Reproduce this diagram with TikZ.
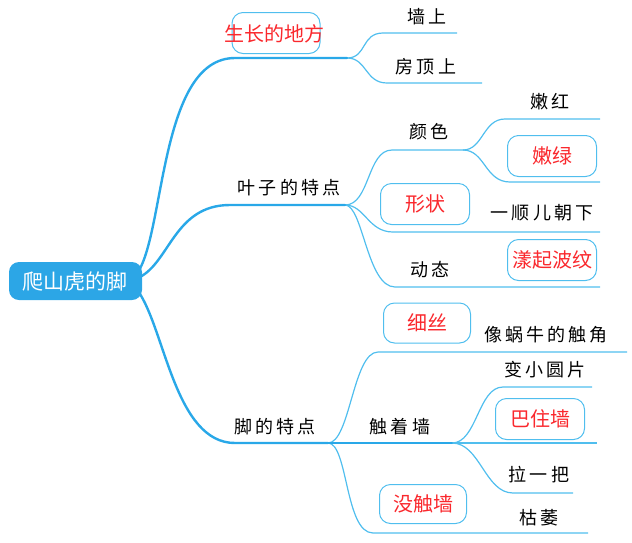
\documentclass[tikz,border=0pt]{standalone}
\usepackage{fontspec}
\newfontfamily\cjk{Noto Sans CJK SC}
\newfontfamily\cjksp[LetterSpace=17]{Noto Sans CJK SC}
\definecolor{thickc}{RGB}{41,168,232}
\definecolor{thinc}{RGB}{80,190,238}
\definecolor{rootfill}{RGB}{44,166,230}
\definecolor{redtxt}{RGB}{250,40,45}
\begin{document}
\begin{tikzpicture}[x=1pt,y=-1pt,
 mainline/.style={draw=thickc, line width=2.4pt, line cap=round},
 subline/.style={draw=thinc, line width=1.2pt},
 blk/.style={font=\fontsize{18}{18}\cjksp, text=black, inner sep=0pt},
 rbox/.style={draw=thinc, line width=1pt, rounded corners=11pt, minimum width=89pt, minimum height=41pt, inner sep=0pt, font=\fontsize{20}{20}\cjk, text=redtxt},
 rtext/.style={font=\fontsize{20}{20}\cjk, text=redtxt, inner sep=0pt},
]
\useasboundingbox (0,0) rectangle (632,542);

% coordinates
\coordinate (r1) at (138,272);
\coordinate (r2) at (140,277);
\coordinate (r3) at (138,291);
\coordinate (a1) at (235,58);  \coordinate (f1) at (347,58);
\coordinate (e1s) at (383,33); \coordinate (e1e) at (457,33);
\coordinate (e2s) at (387,83); \coordinate (e2e) at (482,83);
\coordinate (a2) at (230,205); \coordinate (f2) at (345,205);
\coordinate (c1s) at (392,150); \coordinate (f3) at (463,150);
\coordinate (c2s) at (505,119); \coordinate (c2e) at (600,119);
\coordinate (c3s) at (510,182); \coordinate (c3e) at (600,182);
\coordinate (s1s) at (393,232); \coordinate (s1e) at (600,232);
\coordinate (d1s) at (395,287); \coordinate (d1e) at (600,287);
\coordinate (a3) at (235,443); \coordinate (f4) at (328,443);
\coordinate (x1s) at (378,352); \coordinate (x1e) at (627,352);
\coordinate (f5) at (452,443);
\coordinate (t1s) at (503,387); \coordinate (t1e) at (592,387);
\coordinate (t2e) at (597,443);
\coordinate (t3s) at (513,493); \coordinate (t3e) at (573,493);
\coordinate (m1s) at (373,533); \coordinate (m1e) at (588,533);

% thin lines
\draw[subline] (f1) .. controls +(20,0) and +(-22,0) .. (e1s) -- (e1e);
\draw[subline] (f1) .. controls +(20,0) and +(-22,0) .. (e2s) -- (e2e);
\draw[subline] (f2) .. controls +(25,0) and +(-25,0) .. (c1s) -- (f3);
\draw[subline] (f3) .. controls +(20,0) and +(-22,0) .. (c2s) -- (c2e);
\draw[subline] (f3) .. controls +(22,0) and +(-25,0) .. (c3s) -- (c3e);
\draw[subline] (f2) .. controls +(20,0) and +(-25,0) .. (s1s) -- (s1e);
\draw[subline] (f2) .. controls +(18,0) and +(-28,0) .. (d1s) -- (d1e);
\draw[subline] (f4) .. controls +(22,0) and +(-25,0) .. (x1s) -- (x1e);
\draw[subline] (f5) .. controls +(25,0) and +(-25,0) .. (t1s) -- (t1e);
\draw[subline] (f5) -- (t2e);
\draw[subline] (f5) .. controls +(28,0) and +(-28,0) .. (t3s) -- (t3e);
\draw[subline] (f4) .. controls +(20,0) and +(-28,0) .. (m1s) -- (m1e);

% thick lines
\draw[mainline] (r1) .. controls +(27,-42) and +(-75,0) .. (a1) -- (f1);
\draw[mainline] (r2) .. controls +(30,-16) and +(-55,0) .. (a2) -- (f2);
\draw[mainline] (r3) .. controls +(27,38) and +(-60,0) .. (a3) -- (f4);
\draw[mainline, line width=1.9pt] (f4) -- (f5);

% root
\node[fill=rootfill, rounded corners=10pt, minimum width=133pt, minimum height=38pt, inner sep=0pt, text=white, font=\fontsize{21}{21}\cjk] (root) at (75.5,281) {爬山虎的脚};

% red boxes
\node[rbox, minimum width=88pt] (b0) at (276,33) {};
\node[rtext] (t0) at (274,34) {生长的地方};
\node[rbox] (b1) at (552,156) {嫩绿};
\node[rbox] (b2) at (425,204) {形状};
\node[rbox] (b3) at (552,260) {漾起波纹};
\node[rbox, minimum width=87pt, minimum height=40pt] (b4) at (427,323) {细丝};
\node[rbox] (b5) at (540,419) {巴住墙};
\node[rbox, minimum width=87pt, minimum height=39pt] (b6) at (423,504) {没触墙};

% black labels
\node[blk] (l1) at (427,17) {墙上};
\node[blk] (l2) at (426,67) {房顶上};
\node[blk] (l3) at (289,188) {叶子的特点};
\node[blk] (l4) at (429,132) {颜色};
\node[blk] (l5) at (550,102) {嫩红};
\node[blk] (l6) at (542,213) {一顺儿朝下};
\node[blk] (l7) at (430,270) {动态};
\node[blk] (l8) at (275,427) {脚的特点};
\node[blk] (l9) at (546,335) {像蜗牛的触角};
\node[blk] (l10) at (400,427) {触着墙};
\node[blk] (l11) at (545,370) {变小圆片};
\node[blk] (l12) at (539,475) {拉一把};
\node[blk] (l13) at (539,518) {枯萎};
\end{tikzpicture}
\end{document}
